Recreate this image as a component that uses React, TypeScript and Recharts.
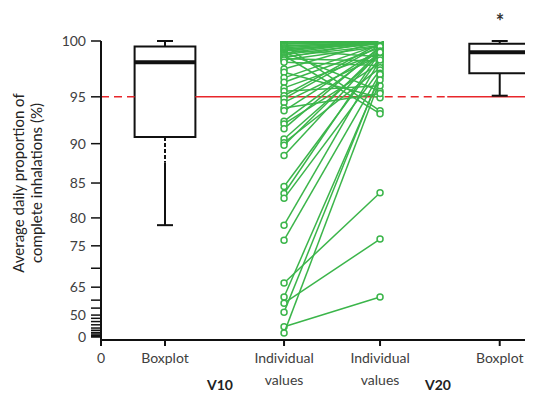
import React from 'react';
import {
  ComposedChart,
  XAxis,
  YAxis,
  Scatter,
  ReferenceLine,
  ReferenceArea,
} from 'recharts';

// ---------- data ----------
const CATEGORY_LABELS = ['0', 'Boxplot', 'Individual\nvalues', 'Individual\nvalues', 'Boxplot'];
const CATEGORY_X = [0, 1, 2.86, 4.36, 6.23];
const GROUP_LABELS = ['V10', 'V20'];

const Y_TICK_LABELED = [0, 50, 65, 75, 80, 85, 90, 95, 100];
const Y_TICK_MINOR = [5, 10, 15, 20, 25, 30, 35, 40, 45, 55, 60, 70];

const V10 = [
  100, 100, 99.9, 99.8, 99.8, 99.7, 99.6, 99.6, 99.5, 99.4, 99.3, 99.2, 99.2, 99.1, 99.0, 98.9,
  98.8, 98.7, 98.6, 98.5, 98.4, 98.3, 98.1, 97.5, 97.2, 96.7, 96.3, 95.8, 95.5, 95.1, 94.8, 94.4,
  93.8, 93.5, 92.4, 92.1, 91.6, 90.5, 90.1, 89.8, 88.5, 84.5, 83.5, 82.8, 78.7, 76.0, 66.1, 61.2,
  58.1, 52.1, 32, 18,
];
const V20 = [
  100, 100, 100, 100, 99.9, 100, 99.8, 93.5, 100, 99.9, 99.7, 100, 98.6, 99.9, 95.5, 100,
  99.8, 93.2, 99.6, 100, 98.2, 99.5, 97.8, 100, 94.9, 99.7, 99.4, 98.9, 96.0, 99.8, 99.6, 98.7,
  95.3, 99.3, 99.2, 98.0, 99.5, 98.8, 97.6, 99.1, 99.0, 98.5, 99.0, 97.4, 98.3, 97.1, 83.6, 96.8,
  76.2, 97.0, 61.2, 96.5,
];

const BOX_V10 = { min: 78.7, q1: 90.7, median: 98.1, q3: 99.5, max: 100, dashedTo: 87.6 };
const BOX_V20 = { min: 95.1, q1: 97.1, median: 99.0, q3: 99.75, max: 100 };
const THRESHOLD = 95;

// ---------- non-linear y axis of the original (value -> axis units) ----------
const AXIS_VALUES = [0, 10, 20, 30, 40, 50, 55, 60, 65, 70, 75, 80, 85, 90, 95, 100];
const AXIS_UNITS = [0, 1.5, 4.5, 9, 15.5, 22, 29, 37, 50, 69, 91.5, 119.5, 154.5, 194, 241, 297];

function toAxis(v: number): number {
  if (v <= AXIS_VALUES[0]) return AXIS_UNITS[0];
  for (let i = 1; i < AXIS_VALUES.length; i++) {
    if (v <= AXIS_VALUES[i]) {
      const t = (v - AXIS_VALUES[i - 1]) / (AXIS_VALUES[i] - AXIS_VALUES[i - 1]);
      return AXIS_UNITS[i - 1] + t * (AXIS_UNITS[i] - AXIS_UNITS[i - 1]);
    }
  }
  return AXIS_UNITS[AXIS_UNITS.length - 1];
}

const Y_TICK_ALL = [...Y_TICK_LABELED, ...Y_TICK_MINOR].sort((a, b) => a - b);
const Y_TICKS = Y_TICK_ALL.map(toAxis);

function yLabel(u: number): string {
  const v = Y_TICK_ALL.find((t) => Math.abs(toAxis(t) - u) < 1e-6);
  return v !== undefined && Y_TICK_LABELED.includes(v) ? String(v) : '';
}

// ---------- styles ----------
const W = 525;
const H = 386;
const GREEN = '#3bb54a';
const RED = '#e8262b';
const INK = '#111';
const TEXT = '#404040';
const FONT = 'Lato, "Open Sans", sans-serif';
const BOX_HALF = 0.475;
const CAP_HALF = 0.125;

const HollowDot = (props: any) => {
  const { cx, cy } = props;
  if (cx == null || cy == null) return null;
  return <circle cx={cx} cy={cy} r={3} fill="#fff" stroke={GREEN} strokeWidth={1.5} />;
};

const XTick = (props: any) => {
  const { x, y, index } = props;
  const lines = CATEGORY_LABELS[index].split('\n');
  return (
    <g transform={`translate(${x},${y})`}>
      <text textAnchor="middle" fontFamily={FONT} fontSize={14} fill={TEXT}>
        {lines.map((l, i) => (
          <tspan key={i} x={0} dy={i === 0 ? 15 : 22}>
            {l}
          </tspan>
        ))}
      </text>
    </g>
  );
};

function boxElements(cx: number, b: any, key: string) {
  const els: any[] = [];
  const seg = (x1: number, y1: number, x2: number, y2: number, k: string, extra: any = {}) => (
    <ReferenceLine
      key={key + k}
      segment={[
        { x: x1, y: toAxis(y1) },
        { x: x2, y: toAxis(y2) },
      ]}
      stroke={INK}
      strokeWidth={2}
      ifOverflow="visible"
      {...extra}
    />
  );
  // upper whisker
  els.push(seg(cx, b.q3, cx, b.max, 'uw'));
  els.push(seg(cx - CAP_HALF, b.max, cx + CAP_HALF, b.max, 'uc'));
  // lower whisker
  if (b.dashedTo !== undefined) {
    els.push(seg(cx, b.q1, cx, b.dashedTo, 'lwd', { strokeDasharray: '4 2' }));
    els.push(seg(cx, b.dashedTo, cx, b.min, 'lw'));
  } else {
    els.push(seg(cx, b.q1, cx, b.min, 'lw'));
  }
  els.push(seg(cx - CAP_HALF, b.min, cx + CAP_HALF, b.min, 'lc'));
  // box
  els.push(
    <ReferenceArea
      key={key + 'box'}
      x1={cx - BOX_HALF}
      x2={cx + BOX_HALF}
      y1={toAxis(b.q1)}
      y2={toAxis(b.q3)}
      fill="#fff"
      fillOpacity={1}
      stroke={INK}
      strokeWidth={2}
      ifOverflow="visible"
    />
  );
  els.push(seg(cx - BOX_HALF, b.median, cx + BOX_HALF, b.median, 'med', { strokeWidth: 4 }));
  return els;
}

export default function App() {
  const xMax = 6.75;
  const box1 = CATEGORY_X[1];
  const box2 = CATEGORY_X[4];
  const thr = toAxis(THRESHOLD);
  const redSeg = (x1: number, x2: number, dashed: boolean, k: string) => (
    <ReferenceLine
      key={k}
      segment={[
        { x: x1, y: thr },
        { x: x2, y: thr },
      ]}
      stroke={RED}
      strokeWidth={1.5}
      strokeDasharray={dashed ? '8 5' : undefined}
      ifOverflow="visible"
    />
  );

  return (
    <div style={{ position: 'relative', width: W, height: H, fontFamily: FONT }}>
      <ComposedChart width={W} height={H} margin={{ top: 33, right: 0, bottom: 0, left: 0 }}>
        <XAxis
          type="number"
          dataKey="x"
          domain={[0, xMax]}
          ticks={CATEGORY_X}
          interval={0}
          tick={<XTick />}
          tickSize={6}
          tickMargin={2}
          height={54}
          axisLine={{ stroke: INK, strokeWidth: 2 }}
          tickLine={{ stroke: INK, strokeWidth: 2 }}
          allowDataOverflow
        />
        <YAxis
          type="number"
          dataKey="y"
          domain={[-3, toAxis(100)]}
          ticks={Y_TICKS}
          interval={0}
          tickFormatter={yLabel}
          width={93}
          tickSize={10}
          tickMargin={5}
          tick={{ fill: TEXT, fontSize: 14, fontFamily: FONT }}
          axisLine={{ stroke: INK, strokeWidth: 2 }}
          tickLine={{ stroke: INK, strokeWidth: 1.5 }}
          allowDataOverflow
          label={{
            content: () => (
              <g fontFamily={FONT} fontSize={15} fill="#222">
                <text x={10} y={175} transform="rotate(-90 10 175)" textAnchor="middle" dominantBaseline="central">
                  Average daily proportion of
                </text>
                <text x={28} y={175} transform="rotate(-90 28 175)" textAnchor="middle" dominantBaseline="central">
                  complete inhalations (%)
                </text>
              </g>
            ),
          }}
        />
        {V10.map((a, i) => (
          <Scatter
            key={'p' + i}
            data={[
              { x: CATEGORY_X[2], y: toAxis(a) },
              { x: CATEGORY_X[3], y: toAxis(V20[i]) },
            ]}
            line={{ stroke: GREEN, strokeWidth: 1.5 }}
            lineType="joint"
            shape={<HollowDot />}
            isAnimationActive={false}
          />
        ))}
        {redSeg(0, box1 - BOX_HALF, true, 'r1')}
        {redSeg(box1 + BOX_HALF, 4.23, false, 'r2')}
        {redSeg(4.23, 5.41, true, 'r3')}
        {redSeg(5.41, xMax, false, 'r4')}
        {boxElements(box1, BOX_V10, 'b1')}
        {boxElements(box2, BOX_V20, 'b2')}
      </ComposedChart>
      <div style={{ position: 'absolute', left: 212, top: 377, transform: 'translate(-50%,-50%)', fontWeight: 700, fontSize: 14, color: '#222', lineHeight: 1 }}>
        {GROUP_LABELS[0]}
      </div>
      <div style={{ position: 'absolute', left: 430, top: 377, transform: 'translate(-50%,-50%)', fontWeight: 700, fontSize: 14, color: '#222', lineHeight: 1 }}>
        {GROUP_LABELS[1]}
      </div>
      <div style={{ position: 'absolute', left: 492, top: 13, transform: 'translate(-50%,-50%)', fontWeight: 700, fontSize: 20, color: '#333', lineHeight: 1 }}>
        *
      </div>
    </div>
  );
}
